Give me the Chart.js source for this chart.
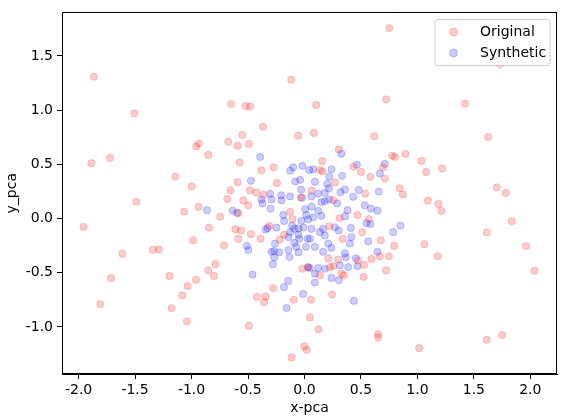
<!DOCTYPE html>
<html>
<head>
<meta charset="utf-8">
<script src="https://cdn.jsdelivr.net/npm/chart.js@4.4.1/dist/chart.umd.min.js"></script>
<style>
html,body{margin:0;padding:0;background:#fff;}
#wrap{position:relative;width:562px;height:418px;}
</style>
</head>
<body>
<div id="wrap"><canvas id="c" width="562" height="418"></canvas></div>
<script>
const seriesNames = ["Original", "Synthetic"];
const xTicks = [-2.0, -1.5, -1.0, -0.5, 0.0, 0.5, 1.0, 1.5, 2.0];
const yTicks = [-1.0, -0.5, 0.0, 0.5, 1.0, 1.5];

const origX = [-1.865,-1.507,-0.118,-0.651,-0.519,-0.481,-0.368,0.750,0.723,0.104,0.083,1.732,1.422,-1.888,-1.722,-1.144,-1.489,-1.065,-1.958,-1.342,-1.289,-1.613,-1.713,-1.195,-1.035,-1.082,-1.808,-1.177,-1.041,
-0.551,-0.056,-0.935,-0.958,-0.675,-0.593,-0.492,-0.852,-0.575,-0.381,-0.274,-0.244,-0.593,-1.000,-0.655,-0.483,-0.427,-0.363,-0.684,-0.542,-0.498,-0.032,-0.938,-0.746,-0.584,-0.127,-0.846,-0.613,-0.563,-0.474,-0.389,-0.985,-0.713,-0.587,-0.310,-0.218,-0.180,-0.106,
0.619,0.304,0.776,0.800,0.894,1.035,1.077,0.157,0.434,0.499,0.584,0.711,0.696,0.159,0.136,0.269,0.062,0.537,0.841,0.871,1.092,0.254,0.469,0.570,0.310,0.219,0.511,0.340,0.676,0.794,1.062,
1.626,1.219,1.703,1.782,1.186,1.212,1.835,1.614,1.962,1.180,2.035,1.750,1.614,
0.210,0.298,0.593,0.667,0.747,0.528,0.475,0.723,0.522,0.327,0.349,0.136,0.225,0.254,0.057,0.245,0.048,0.124,0.652,0.652,1.015,
-0.788,-0.852,-0.802,-0.961,-0.277,-0.421,-0.345,-0.357,-0.097,-0.492,-0.018,0.033,-0.003,0.018,-0.115];
const origY = [1.308,0.970,1.281,1.057,1.039,1.033,0.846,1.757,1.100,1.048,0.790,1.423,1.060,0.511,0.559,0.387,0.155,0.065,-0.077,-0.288,-0.285,-0.324,-0.550,-0.529,-0.623,-0.708,-0.789,-0.828,-0.948,
0.771,0.765,0.692,0.665,0.708,0.671,0.689,0.587,0.517,0.445,0.472,0.327,0.336,0.297,0.261,0.261,0.240,0.219,0.179,0.167,0.122,0.195,0.107,0.016,0.050,0.062,-0.083,-0.098,-0.110,-0.143,-0.186,-0.200,-0.246,-0.188,-0.068,-0.195,-0.149,-0.005,
0.759,0.638,0.581,0.568,0.596,0.532,0.430,0.529,0.478,0.430,0.385,0.369,0.472,0.436,0.448,0.333,0.258,0.231,0.279,0.222,0.165,0.170,0.032,-0.005,0.005,-0.071,-0.125,-0.186,-0.200,-0.252,-0.237,
0.753,0.463,0.288,0.237,0.134,0.071,-0.023,-0.128,-0.255,-0.348,-0.481,-1.075,-1.118,
-0.367,-0.378,-0.372,-0.348,-0.348,-0.427,-0.388,-0.478,-0.538,-0.508,-0.523,-0.523,-0.448,-0.439,-0.749,-0.701,-0.912,-1.021,-1.066,-1.097,-1.196,
-0.421,-0.478,-0.529,-0.566,-0.641,-0.722,-0.719,-0.771,-0.749,-0.988,-0.463,-0.448,-1.178,-1.211,-1.281];

const synthX = [-0.392,-0.127,-0.100,-0.018,-0.474,-0.082,-0.038,-0.206,-0.204,-0.304,-0.292,-0.381,-0.372,-0.129,-0.023,-0.029,-0.301,-0.864,-0.637,-0.598,-0.188,-0.180,0.006,0.015,0.033,-0.027,-0.109,-0.091,-0.248,-0.345,-0.327,-0.053,-0.009,-0.127,-0.142,-0.053,-0.047,-0.091,-0.073,0.012,0.027,-0.510,-0.496,-0.262,-0.268,-0.224,-0.292,-0.142,
0.327,0.464,0.711,0.667,0.077,0.042,0.239,0.219,0.334,0.092,0.201,0.216,0.358,0.319,0.481,0.658,0.431,0.180,0.121,0.062,0.219,0.180,0.150,0.289,0.534,0.588,0.646,0.381,0.062,0.121,0.150,0.077,0.358,0.549,0.584,0.411,0.269,0.304,0.165,0.136,0.180,0.062,0.048,0.785,0.850,0.416,0.402,0.564,0.210,0.239,0.092,0.165,0.646,0.358,
0.366,0.455,0.469,0.387,0.313,0.180,0.121,0.048,0.092,0.092,0.239,0.304,0.437,
-0.460,-0.280,-0.182,-0.144,-0.012,-0.159,-0.133,-0.053,-0.268,0.030];
const synthY = [0.568,0.442,0.472,0.487,0.348,0.342,0.357,0.215,0.167,0.228,0.176,0.176,0.140,0.204,0.192,0.267,0.092,0.077,0.074,0.053,0.034,-0.023,0.086,0.032,-0.007,-0.020,-0.065,-0.095,-0.083,-0.101,-0.089,-0.092,-0.083,-0.125,-0.170,-0.149,-0.186,-0.224,-0.261,-0.261,-0.186,-0.252,-0.291,-0.231,-0.300,-0.312,-0.306,-0.291,
0.599,0.496,0.505,0.415,0.454,0.448,0.454,0.387,0.394,0.339,0.321,0.279,0.267,0.243,0.264,0.249,0.201,0.237,0.231,0.206,0.176,0.161,0.152,0.140,0.122,0.092,0.074,0.077,0.110,0.071,0.025,0.011,0.020,-0.043,-0.050,-0.086,-0.080,-0.110,-0.095,-0.125,-0.156,-0.095,-0.186,-0.125,-0.065,-0.170,-0.231,-0.210,-0.231,-0.270,-0.261,-0.306,-0.306,-0.320,
-0.357,-0.367,-0.439,-0.448,-0.433,-0.463,-0.457,-0.457,-0.508,-0.590,-0.548,-0.569,-0.759,
-0.517,-0.421,-0.632,-0.575,-0.695,-0.825,-0.355,-0.312,-0.357,-0.450];

const FONT = "'DejaVu Sans', sans-serif";
const redFill = 'rgba(255,0,0,0.2)';
const blueFill = 'rgba(0,0,255,0.2)';

function pts(xs, ys){ return xs.map((x,i)=>({x:x, y:ys[i]})); }

const framePlugin = {
  id: 'frame',
  afterDraw(chart){
    const {ctx, chartArea:a} = chart;
    ctx.save();
    ctx.strokeStyle = '#000';
    ctx.lineWidth = 1;
    ctx.strokeRect(Math.round(a.left)+0.5, Math.round(a.top)+0.5, Math.round(a.right-a.left)-1, Math.round(a.bottom-a.top)-1);
    // legend
    const bx = a.right - 122, by = a.top + 7, bw = 115, bh = 46, r = 3;
    ctx.beginPath();
    ctx.moveTo(bx+r, by);
    ctx.lineTo(bx+bw-r, by); ctx.arcTo(bx+bw, by, bx+bw, by+r, r);
    ctx.lineTo(bx+bw, by+bh-r); ctx.arcTo(bx+bw, by+bh, bx+bw-r, by+bh, r);
    ctx.lineTo(bx+r, by+bh); ctx.arcTo(bx, by+bh, bx, by+bh-r, r);
    ctx.lineTo(bx, by+r); ctx.arcTo(bx, by, bx+r, by, r);
    ctx.closePath();
    ctx.fillStyle = 'rgba(255,255,255,0.8)';
    ctx.fill();
    ctx.strokeStyle = '#cccccc';
    ctx.stroke();
    const cols = [redFill, blueFill];
    seriesNames.forEach((name, i) => {
      const cy = by + 12.5 + i*21;
      ctx.beginPath();
      ctx.arc(bx + 18.5, cy, 4, 0, Math.PI*2);
      ctx.fillStyle = cols[i]; ctx.fill();
      ctx.strokeStyle = cols[i]; ctx.lineWidth = 1; ctx.stroke();
      ctx.fillStyle = '#000';
      ctx.font = '14px ' + FONT;
      ctx.textBaseline = 'middle';
      ctx.textAlign = 'left';
      ctx.fillText(name, bx + 45, cy);
    });
    ctx.restore();
  }
};

new Chart(document.getElementById('c'), {
  type: 'scatter',
  data: {
    datasets: [
      { label: seriesNames[0], data: pts(origX, origY), backgroundColor: redFill, borderColor: redFill, borderWidth: 1, pointRadius: 3.6 },
      { label: seriesNames[1], data: pts(synthX, synthY), backgroundColor: blueFill, borderColor: blueFill, borderWidth: 1, pointRadius: 3.6 }
    ]
  },
  options: {
    responsive: false,
    animation: false,
    devicePixelRatio: 1,
    layout: { padding: { left: 0, right: 5, top: 5, bottom: 0 } },
    plugins: { legend: { display: false }, tooltip: { enabled: false } },
    scales: {
      x: {
        type: 'linear', min: -2.147, max: 2.236,
        afterBuildTicks: s => { s.ticks = xTicks.map(v => ({value: v})); },
        afterFit: s => { s.height = 44; },
        ticks: { callback: v => Number(v).toFixed(1), color: '#000', font: { family: FONT, size: 14 }, padding: 3, maxRotation: 0, autoSkip: false },
        grid: { drawOnChartArea: false, drawTicks: true, tickLength: 5, color: '#000', tickWidth: 1 },
        border: { display: true, color: '#000' },
        title: { display: true, text: 'x-pca', color: '#000', font: { family: FONT, size: 14 }, padding: { top: 0, bottom: 1 } }
      },
      y: {
        type: 'linear', min: -1.434, max: 1.902,
        afterBuildTicks: s => { s.ticks = yTicks.map(v => ({value: v})); },
        afterFit: s => { s.width = 62; },
        ticks: { callback: v => Number(v).toFixed(1), color: '#000', font: { family: FONT, size: 14 }, padding: 4, autoSkip: false },
        grid: { drawOnChartArea: false, drawTicks: true, tickLength: 5, color: '#000', tickWidth: 1 },
        border: { display: true, color: '#000' },
        title: { display: true, text: 'y_pca', color: '#000', font: { family: FONT, size: 14 }, padding: { top: 4, bottom: 0 } }
      }
    }
  },
  plugins: [framePlugin]
});
</script>
</body>
</html>
